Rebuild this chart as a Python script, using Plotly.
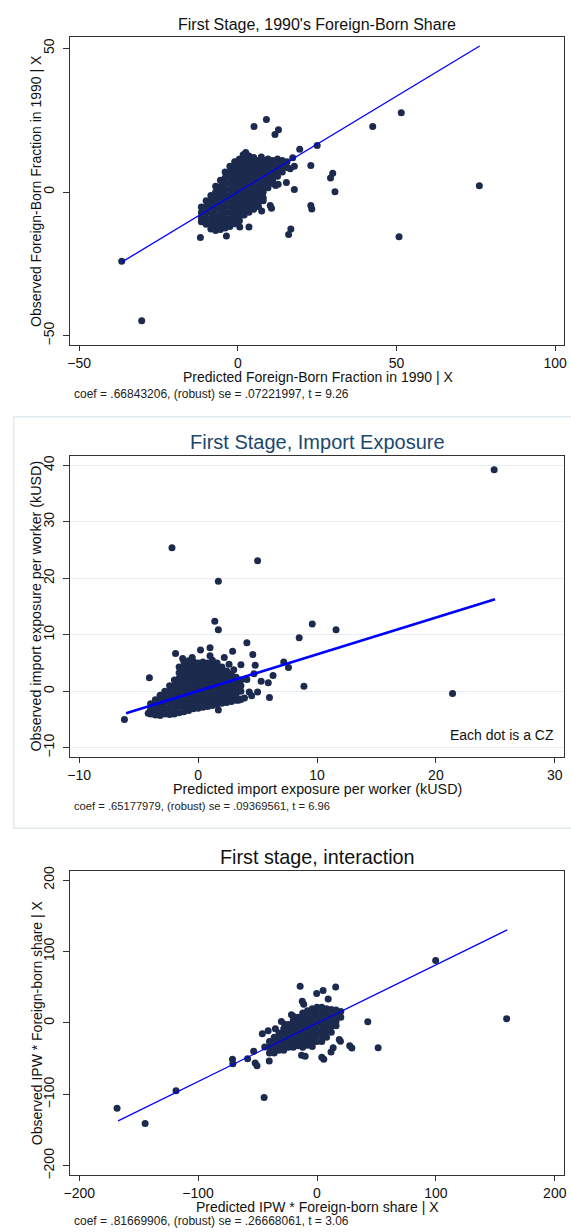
import plotly.graph_objects as go

W, H = 571, 1232
FONT = "Arial, Liberation Sans, sans-serif"
DOT = "#1c2a4e"

# ---------------- panel 1: 1990's foreign-born share ----------------
fb_cols = [-11.5, -10, -8.5, -7, -5.5, -4, -2.5, -1, 0.5, 2, 3.5, 5, 6.5, 8, 9.5, 11, 12.5, 14, 15.5]
fb_cloud = [
    [-5.2, -7.1, -9.0, -10.3],
    [-3.0, -5.0, -7.1, -9.0, -11.2],
    [-1.2, -3.1, -5.0, -7.0, -9.1, -11.0, -12.9],
    [2.0, 0.0, -2.1, -4.0, -6.0, -8.1, -10.0, -12.0, -13.4],
    [4.1, 1.9, 0.0, -2.0, -4.1, -6.0, -8.0, -10.1, -12.0, -13.0],
    [7.0, 5.0, 3.0, 1.0, -1.0, -3.0, -5.0, -7.0, -9.0, -11.0, -12.5],
    [9.0, 7.0, 5.0, 3.0, 1.0, -1.0, -3.0, -5.0, -7.0, -9.0, -11.0, -12.0],
    [10.5, 8.5, 6.5, 4.5, 2.5, 0.5, -1.5, -3.5, -5.5, -7.5, -9.5, -11.0],
    [11.5, 9.5, 7.5, 5.5, 3.5, 1.5, -0.5, -2.5, -4.5, -6.5, -8.5, -10.0],
    [12.0, 10.0, 8.0, 6.0, 4.0, 2.0, 0.0, -2.0, -4.0, -6.0, -8.0],
    [12.5, 10.5, 8.5, 6.5, 4.5, 2.5, 0.5, -1.5, -3.5, -5.5, -7.0],
    [12.0, 10.0, 9.0, 7.0, 5.0, 3.0, 1.0, -1.0, -3.0, -5.0, -6.0],
    [11.0, 9.5, 8.5, 6.5, 4.5, 2.5, 0.5, -1.5, -3.5, -5.0],
    [11.0, 10.0, 8.0, 6.0, 4.0, 2.0, 0.0, -2.0, -3.0],
    [11.5, 9.5, 7.5, 5.5, 3.5, 1.5],
    [11.0, 10.0, 8.0, 6.0, 4.0, 3.0],
    [11.5, 9.5, 7.5, 5.5],
    [11.0, 9.0, 7.0],
    [10.5, 8.5],
]
fb_out_x = [-36.6, -30.3, 76.1, 51.5, 50.8, 42.5, 25.0, 19.5, 23.0, 29.9, 29.2, 30.6, 23.0, 23.3,
            16.7, 16.0, 17.8, 15.3, 9.0, 5.1, 12.8, 11.7, 17.3, -11.8, -3.6, 3.5, 0.6, 7.5, 10.6,
            10.2, 2.5, 1.7, 0.1, 7.4, 17.8, 16.5, 11.9, 12.7]
fb_out_y = [-24.1, -44.8, 2.2, 27.6, -15.6, 22.8, 16.2, 14.9, 9.2, 6.5, 4.9, 0.1, -4.7, -5.9,
            -12.9, -14.8, 0.9, 3.3, 25.2, 22.8, 21.7, 20.0, 11.9, -15.8, -15.3, -12.2, -12.2, -6.6, -5.6,
            -4.7, 13.8, 13.0, 10.9, 12.2, 9.0, 8.1, 2.3, 2.7]
fb_fit_x = [-36.6, 76.2]
fb_fit_y = [-24.4, 50.8]

# ---------------- panel 2: import exposure ----------------
ie_cols = [-4.0, -3.6, -3.2, -2.8, -2.4, -2.0, -1.6, -1.2, -0.8, -0.4, 0.0, 0.4, 0.8, 1.2, 1.6,
           2.0, 2.4, 2.8, 3.2, 3.6]
ie_cloud = [
    [-2.2, -3.2, -4.0],
    [-1.5, -2.5, -3.5, -4.2],
    [-0.7, -1.7, -2.7, -3.7, -4.3],
    [0.0, -1.0, -2.0, -3.0, -4.0],
    [1.0, 0.0, -1.0, -2.0, -3.0, -4.0],
    [2.0, 1.0, 0.0, -1.0, -2.0, -3.0, -4.0],
    [4.3, 3.3, 2.3, 1.3, 0.3, -0.7, -1.7, -2.7, -3.8],
    [5.3, 4.3, 3.3, 2.3, 1.3, 0.3, -0.7, -1.7, -2.7, -3.6],
    [5.4, 4.4, 3.4, 2.4, 1.4, 0.4, -0.6, -1.6, -2.6, -3.4],
    [5.3, 4.3, 3.3, 2.3, 1.3, 0.3, -0.7, -1.7, -2.7, -3.1],
    [5.0, 4.0, 3.0, 2.0, 1.0, 0.0, -1.0, -2.0, -3.0],
    [5.2, 4.2, 3.2, 2.2, 1.2, 0.2, -0.8, -1.8, -2.8],
    [5.0, 4.0, 3.0, 2.0, 1.0, 0.0, -1.0, -2.0, -2.7],
    [5.5, 4.5, 3.5, 2.5, 1.5, 0.5, -0.5, -1.5, -2.5],
    [5.0, 4.0, 3.0, 2.0, 1.0, 0.0, -1.0, -2.0, -2.3],
    [4.3, 3.3, 2.3, 1.3, 0.3, -0.7, -1.7, -2.1],
    [3.6, 2.6, 1.6, 0.6, -0.4, -1.4, -2.0],
    [3.0, 2.0, 1.0, 0.0, -1.0, -1.8],
    [2.5, 1.5, 0.5, -0.5, -1.6],
    [2.0, 1.0, 0.0, -1.4],
]
ie_out_x = [24.9, -2.2, 5.0, 1.7, 1.4, 1.7, 9.6, 11.6, 8.5, 4.1, 4.6, 4.8, 7.2, 7.6, 6.3, 5.9, 8.9,
            21.4, 6.0, 5.0, -6.2, -4.1, -4.2, -1.9, 0.2, 1.0, 2.9, 3.6, 5.3, 1.7, -2.4, 3.6, 4.1,
            4.7, 4.3, 3.9, 3.0, 2.6, 2.2, 1.0, -0.5, -1.3, 4.5, 3.4]
ie_out_y = [39.2, 25.4, 23.1, 19.5, 12.4, 10.9, 11.9, 10.9, 9.5, 8.6, 6.5, 4.6, 5.2, 4.2, 2.8, 1.5, 0.9,
            -0.4, -1.1, -0.1, -5.0, 2.4, -3.9, 6.7, 7.3, 7.7, 7.1, 4.7, 1.8, -3.3, -4.1, -1.4, 2.1,
            3.1, -0.1, -1.2, 3.8, 4.8, 6.0, 6.3, 6.0, 5.8, -0.8, -1.6]
ie_fit_x = [-6.06, 24.97]
ie_fit_y = [-3.9, 16.3]

# ---------------- panel 3: interaction ----------------
ix_cols = [-40, -36, -32, -28, -24, -20, -16, -12, -8, -4, 0, 4, 8, 12, 16, 20]
ix_cloud = [
    [-26, -34, -42],
    [-20, -28, -36, -42],
    [-14, -22, -30, -38],
    [-8, -16, -24, -32, -38],
    [-2, -10, -18, -26, -34],
    [3, -5, -13, -21, -29, -34],
    [8, 0, -8, -16, -24, -32],
    [14, 6, -2, -10, -18, -26, -34],
    [17, 9, 1, -7, -15, -23, -31],
    [20, 12, 4, -4, -12, -20, -28, -33],
    [22, 14, 6, -2, -10, -18, -26],
    [22, 14, 6, -2, -10, -18, -26],
    [20, 12, 4, -4, -12, -20],
    [19, 11, 3, -5, -13],
    [18, 10, 2, -4],
    [16, 8],
]
ix_out_x = [-168.2, -144.6, -118.6, -44.5, 99.8, 159.5, 42.7, 51.4, 29.3, 19.7, 13.6, 11.8, 5.7,
            -10.0, -14.2, 15.7, -0.3, 5.1, 9.4, -12.4, -11.2, -20.0, -41.1, -71.1, -70.8, -58.4,
            -50.5, -53.3, -40.2, -44.0, -27.2, -21.5, -46.0, -52.0, -13.0, 4.0, 27.5, 18.7, -35.0, -30.0]
ix_out_y = [-119.2, -140.7, -94.9, -104.2, 87.4, 6.1, 1.9, -34.6, -35.0, -25.7, -34.6, -40.7, -50.9,
            -46.7, 51.4, 50.5, 41.1, 45.3, 33.6, 30.4, 26.2, 9.3, -10.7, -50.9, -57.0, -50.0,
            -59.8, -39.7, -53.3, -33.6, -1.9, 11.5, -15.0, -56.0, -45.0, -48.0, -32.0, -23.0, -8.0, 2.0]
ix_fit_x = [-167.3, 160.0]
ix_fit_y = [-136.9, 130.4]


def flatten(cols, cloud, ox, oy):
    xs, ys = [], []
    for c, vals in zip(cols, cloud):
        for v in vals:
            xs.append(c)
            ys.append(v)
    return xs + ox, ys + oy


def ydom(top, bottom):
    return [1 - bottom / H, 1 - top / H]


def px(x, y):
    return dict(x=x / W, y=1 - y / H, xref="paper", yref="paper")


fig = go.Figure()

panels = [
    (fb_cols, fb_cloud, fb_out_x, fb_out_y, fb_fit_x, fb_fit_y, 1.3),
    (ie_cols, ie_cloud, ie_out_x, ie_out_y, ie_fit_x, ie_fit_y, 2.6),
    (ix_cols, ix_cloud, ix_out_x, ix_out_y, ix_fit_x, ix_fit_y, 1.3),
]
for i, (cols, cloud, ox, oy, fx, fy, lw) in enumerate(panels, start=1):
    sx = "x" if i == 1 else "x%d" % i
    sy = "y" if i == 1 else "y%d" % i
    xs, ys = flatten(cols, cloud, ox, oy)
    fig.add_trace(go.Scatter(x=xs, y=ys, mode="markers", xaxis=sx, yaxis=sy,
                             marker=dict(size=7, color=DOT), showlegend=False))
    fig.add_trace(go.Scatter(x=fx, y=fy, mode="lines", xaxis=sx, yaxis=sy,
                             line=dict(color="#0000ff", width=lw), showlegend=False))

xdom = [65 / W, 567 / W]
tickfont = dict(family=FONT, size=14, color="#111")


def xax(rng, vals, anchor, box="#333"):
    return dict(domain=xdom, range=rng, tickvals=vals, anchor=anchor, showgrid=False,
                zeroline=False, showline=True, linecolor=box, linewidth=1, mirror=True,
                ticks="outside", ticklen=5, tickcolor="#333", tickfont=tickfont)


def yax(rng, vals, anchor, dom, grid=False, box="#333"):
    return dict(domain=dom, range=rng, tickvals=vals, anchor=anchor, showgrid=grid,
                gridcolor="#e6eef1", gridwidth=1.2, zeroline=False, showline=True,
                linecolor=box, linewidth=1, mirror=True, ticks="outside", ticklen=6,
                tickcolor="#333", tickangle=-90, tickfont=tickfont, ticklabelstandoff=3)


fig.update_layout(
    width=W, height=H, margin=dict(l=0, r=0, t=0, b=0),
    paper_bgcolor="white", plot_bgcolor="white", font=dict(family=FONT),
    xaxis=xax([-52.9, 102.8], [-50, 0, 50, 100], "y"),
    yaxis=yax([-53.3, 53.8], [-50, 0, 50], "x", ydom(32.7, 343)),
    xaxis2=xax([-10.78, 30.78], [-10, 0, 10, 20, 30], "y2"),
    yaxis2=yax([-11.6, 41.6], [-10, 0, 10, 20, 30, 40], "x2", ydom(455, 758), grid=True),
    xaxis3=xax([-207.8, 207.8], [-200, -100, 0, 100, 200], "y3"),
    yaxis3=yax([-212.6, 212.8], [-200, -100, 0, 100, 200], "x3", ydom(873, 1179.5)),
)

# screenshot frame around the middle panel
fig.add_shape(type="rect", xref="paper", yref="paper", x0=8 / W, x1=1.02,
              y0=1 - 830 / H, y1=1 - 415 / H,
              line=dict(color="#e2eaed", width=1.5), layer="below")

texts = [
    ("First Stage, 1990's Foreign-Born Share", 316, 20, 16, "#111", 0),
    ("Predicted Foreign-Born Fraction in 1990 | X", 317, 375, 14, "#111", 0),
    ("Observed Foreign-Born Fraction in 1990 | X", 31, 188, 14, "#111", -90),
    ("First Stage, Import Exposure", 316, 441, 20, "#1a476f", 0),
    ("Predicted import exposure per worker (kUSD)", 316, 790, 14.3, "#111", 0),
    ("Observed import exposure per worker (kUSD)", 31, 606, 14.3, "#111", -90),
    ("First stage, interaction", 316, 859, 19.8, "#111", 0),
    ("Predicted IPW * Foreign-born share | X", 316, 1212, 14, "#111", 0),
    ("Observed IPW * Foreign-born share | X", 31, 1026, 14, "#111", -90),
]
for t, x, y, s, c, a in texts:
    fig.add_annotation(text=t, showarrow=False, textangle=a, xanchor="center", yanchor="middle",
                       font=dict(family=FONT, size=s, color=c), **px(x, y))

notes = [
    ("coef = .66843206, (robust) se = .07221997, t = 9.26", 392, 12),
    ("coef = .65177979, (robust) se = .09369561, t = 6.96", 808, 11.2),
    ("coef = .81669906, (robust) se = .26668061, t = 3.06", 1226, 12),
]
for t, y, s in notes:
    fig.add_annotation(text=t, showarrow=False, xanchor="left", yanchor="middle",
                       font=dict(family=FONT, size=s, color="#222"), **px(67, y))

fig.add_annotation(text="Each dot is a CZ", showarrow=False, xanchor="right", yanchor="middle",
                   font=dict(family=FONT, size=14, color="#111"), **px(559, 736))

# drop the browser's default body margin so the figure sits at the page origin
fig.write_html("out.html", config={"displayModeBar": False},
               post_script="document.body.style.margin='0';document.body.style.overflow='hidden';")
